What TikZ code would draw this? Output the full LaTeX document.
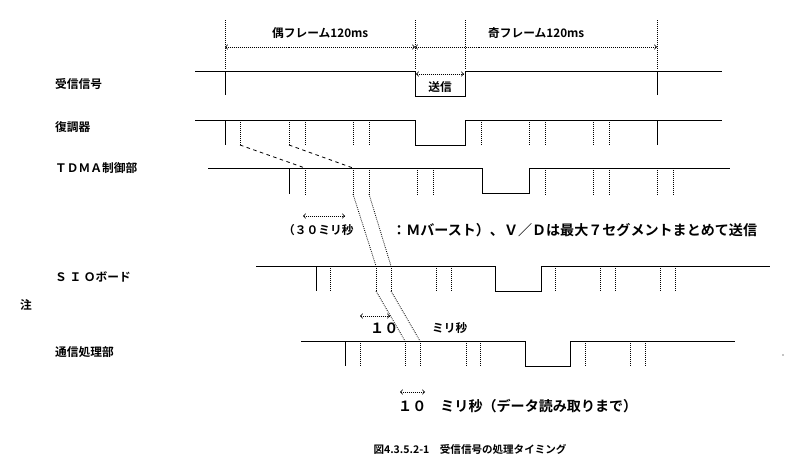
\documentclass[tikz,border=0pt]{standalone}
\usepackage{fontspec}
\setmainfont{Noto Sans CJK JP}[BoldFont={Noto Sans CJK JP Bold}]
\usetikzlibrary{arrows,positioning,calc}

\begin{document}
\begin{tikzpicture}[x=0.03cm,y=-0.03cm,
  sig/.style={line width=0.7pt},
  dtick/.style={densely dotted,line width=0.7pt},
  span/.style={densely dotted,<->,>=to,line width=0.7pt},
  lbl/.style={font=\bfseries\normalsize,anchor=west,inner sep=0pt}]
\useasboundingbox (0,0) rectangle (800,474);

% Frame marks
\foreach \x in {225,415,465,657} \draw[dtick] (\x,20) -- (\x,68);
\draw[span] (225,47) -- (415,47);
\draw[span] (415,47) -- (657,47);
\node[lbl] (even) at (272,33) {偶フレーム120ms};
\node[lbl] (odd) at (488,33) {奇フレーム120ms};

% Receive signal
\node[lbl] (rx) at (55,84) {受信信号};
\draw[sig] (195,71) -- (415,71) -- (415,96) -- (465,96) -- (465,71) -- (722,71);
\draw[sig] (225,71) -- (225,95) (657,71) -- (657,95);
\draw[span] (416,74) -- (464,74);
\node[inner sep=0pt,font=\bfseries\normalsize] (tx) at (440,87) {送信};

% Demodulator
\node[lbl] (dem) at (55,127) {復調器};
\draw[sig] (195,120) -- (415,120) -- (415,145) -- (465,145) -- (465,120) -- (722,120);
\draw[sig] (225,120) -- (225,145) (657,120) -- (657,145);
\foreach \x in {240,289,305,353,369,481,529,545,593,609} \draw[dtick] (\x,120) -- (\x,145);

% TDMA control
\node[lbl] (tdma) at (55,168) {ＴＤＭＡ制御部};
\draw[sig] (208,168) -- (482,168) -- (482,193) -- (529,193) -- (529,168) -- (730,168);
\draw[sig] (289,168) -- (289,194);
\foreach \x in {305,353,369,417,433,545,593,609,657,673} \draw[dtick] (\x,168) -- (\x,194);
\draw[dashed,line width=0.7pt] (240,145) -- (305,168);
\draw[dashed,line width=0.7pt] (289,145) -- (353,168);

% Note line
\draw[span] (303,216) -- (345,216);
\node[lbl] (n30) at (283,230) {（３０ミリ秒};
\node[lbl,font=\bfseries\large] (nm) at (392,230) {：Ｍバースト）、Ｖ／Ｄは最大７セグメントまとめて送信};
\node[lbl] (note) at (20,305) {注};

% SIO board
\node[lbl] (sio) at (55,277) {Ｓ Ｉ Ｏボード};
\draw[sig] (256,266) -- (495,266) -- (495,291) -- (541,291) -- (541,266) -- (770,266);
\draw[sig] (316,266) -- (316,291);
\foreach \x in {330,376,391,436,451,555,600,615,660,675} \draw[dtick] (\x,266) -- (\x,291);
\draw[dtick] (353,194) -- (376,266);
\draw[dtick] (369,194) -- (391,266);

% Communication processing
\draw[span] (360,316) -- (390,316);
\node[lbl,font=\bfseries\large] (n10a) at (370,328) {１０};
\node[lbl] (ms1) at (432,328) {ミリ秒};
\node[lbl] (com) at (55,352) {通信処理部};
\draw[sig] (301,341) -- (525,341) -- (525,366) -- (570,366) -- (570,341) -- (735,341);
\draw[sig] (345,341) -- (345,366);
\foreach \x in {360,405,420,466,480,585,630,645} \draw[dtick] (\x,341) -- (\x,366);
\draw[dtick] (376,291) -- (405,341);
\draw[dtick] (391,291) -- (420,341);
\fill (783,355) circle (0.6pt);

% Read-out delay
\draw[span] (400,392) -- (425,392);
\node[lbl,font=\bfseries\large] (n10b) at (398,406) {１０　ミリ秒（データ読み取りまで）};

% Caption
\node[font=\bfseries\small] (cap) at (470,449) {図4.3.5.2-1　受信信号の処理タイミング};
\end{tikzpicture}
\end{document}
